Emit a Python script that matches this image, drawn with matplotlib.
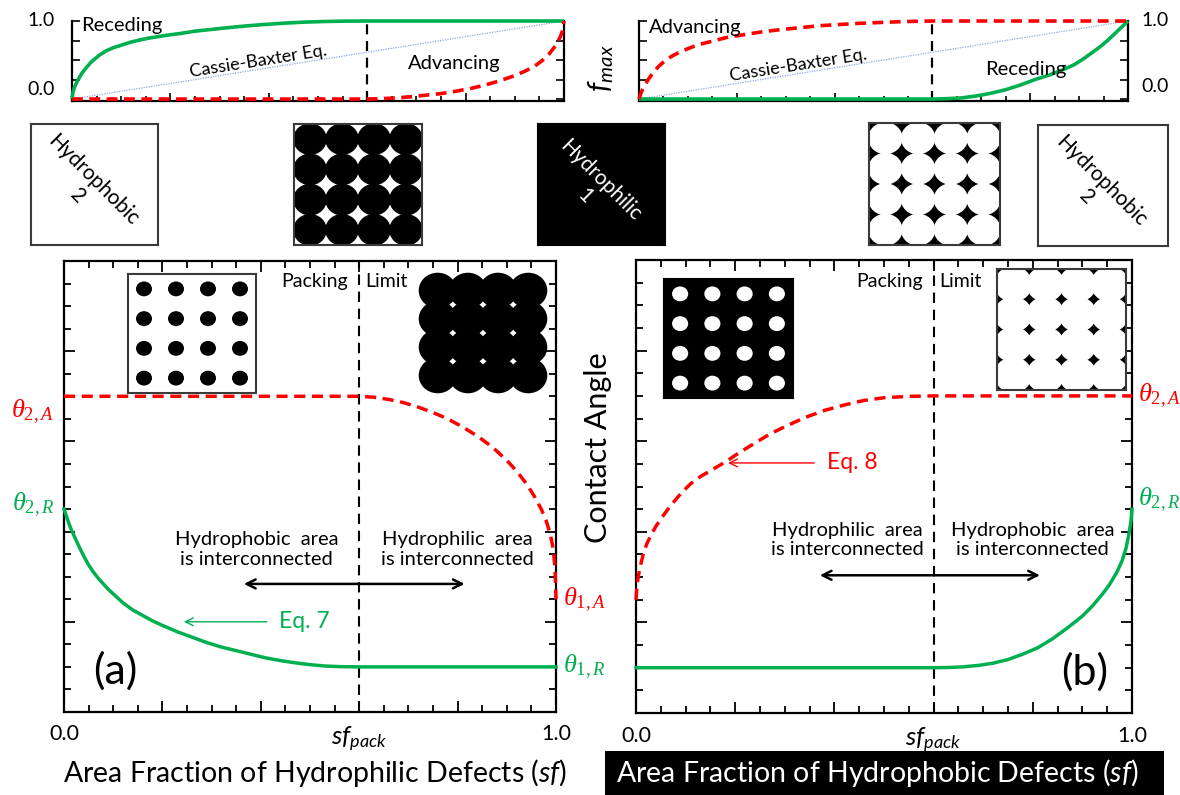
import matplotlib
matplotlib.use("Agg")
import numpy as np
import matplotlib.pyplot as plt
from matplotlib.patches import Ellipse, Rectangle
from matplotlib.ticker import MultipleLocator, FixedLocator

plt.rcParams["font.family"] = ["Lato", "DejaVu Sans"]
plt.rcParams["mathtext.fontset"] = "custom"
plt.rcParams["mathtext.rm"] = "Liberation Serif"
plt.rcParams["mathtext.it"] = "Liberation Serif:italic"
plt.rcParams["mathtext.sf"] = "Lato:italic"

# ---------------------------------------------------------------- data ----
sf_pack = 0.6
x_tick_pos = [0.0, 0.6, 1.0]
x_tick_text = ["0.0", r"$\mathsf{sf}_{\mathsf{pack}}$", "1.0"]

theta_2A = 3.5
theta_2R = 2.25
theta_1A = 1.25
theta_1R = 0.5

# (a) hydrophilic defects on a hydrophobic surface
a_rec_sf = [0.0, 0.005, 0.01, 0.015, 0.02, 0.03, 0.04, 0.05, 0.06, 0.07,
            0.08, 0.09, 0.10, 0.12, 0.14, 0.16, 0.18, 0.20, 0.23, 0.26,
            0.29, 0.32, 0.35, 0.38, 0.41, 0.44, 0.47, 0.50, 0.53, 0.56,
            0.60, 1.00]
a_rec_ca = [2.25, 2.17, 2.09, 2.02, 1.96, 1.84, 1.73, 1.63, 1.55, 1.48,
            1.42, 1.36, 1.31, 1.21, 1.13, 1.07, 1.01, 0.96, 0.89, 0.83,
            0.77, 0.72, 0.68, 0.64, 0.60, 0.57, 0.545, 0.525, 0.51, 0.503,
            0.50, 0.50]
a_adv_sf = [0.0, 0.60, 0.63, 0.66, 0.69, 0.72, 0.75, 0.78, 0.81, 0.84,
            0.87, 0.90, 0.92, 0.94, 0.955, 0.97, 0.98, 0.988, 0.994, 0.998,
            1.00]
a_adv_ca = [3.50, 3.50, 3.49, 3.465, 3.43, 3.38, 3.32, 3.25, 3.16, 3.06,
            2.94, 2.79, 2.67, 2.53, 2.40, 2.25, 2.12, 1.98, 1.82, 1.60,
            1.25]

# (b) hydrophobic defects on a hydrophilic surface
b_adv_sf = [0.0, 0.002, 0.005, 0.01, 0.015, 0.022, 0.03, 0.04, 0.055, 0.07,
            0.09, 0.11, 0.13, 0.155, 0.18, 0.21, 0.24, 0.27, 0.30, 0.34,
            0.38, 0.42, 0.46, 0.50, 0.55, 0.60, 1.00]
b_adv_ca = [1.25, 1.40, 1.52, 1.65, 1.76, 1.87, 1.96, 2.06, 2.18, 2.29,
            2.42, 2.53, 2.61, 2.69, 2.77, 2.88, 2.98, 3.08, 3.16, 3.26,
            3.34, 3.40, 3.45, 3.48, 3.495, 3.50, 3.50]
b_rec_sf = [0.0, 0.60, 0.63, 0.66, 0.69, 0.72, 0.75, 0.78, 0.81, 0.84,
            0.87, 0.90, 0.92, 0.94, 0.955, 0.97, 0.98, 0.988, 0.994, 0.998,
            1.00]
b_rec_ca = [0.50, 0.50, 0.502, 0.51, 0.525, 0.55, 0.59, 0.65, 0.72, 0.82,
            0.94, 1.07, 1.18, 1.31, 1.42, 1.56, 1.68, 1.82, 1.98, 2.12,
            2.25]

# f_max curves above each panel
fa_rec_sf = [0.0, 0.002, 0.005, 0.01, 0.02, 0.03, 0.04, 0.055, 0.07, 0.085,
             0.10, 0.12, 0.14, 0.16, 0.19, 0.22, 0.25, 0.28, 0.31, 0.35,
             0.39, 0.43, 0.47, 0.51, 0.55, 0.60, 1.00]
fa_rec_f = [0.0, 0.09, 0.15, 0.22, 0.33, 0.41, 0.48, 0.56, 0.62, 0.66,
            0.69, 0.73, 0.76, 0.785, 0.815, 0.84, 0.87, 0.89, 0.91, 0.935,
            0.955, 0.972, 0.985, 0.993, 0.998, 1.0, 1.0]
fa_adv_sf = [0.0, 0.60, 0.63, 0.66, 0.69, 0.72, 0.75, 0.78, 0.81, 0.84,
             0.87, 0.90, 0.92, 0.94, 0.955, 0.97, 0.98, 0.988, 0.994, 0.998,
             1.00]
fa_adv_f = [0.0, 0.0, 0.005, 0.015, 0.03, 0.05, 0.07, 0.10, 0.135, 0.18,
            0.235, 0.30, 0.355, 0.42, 0.49, 0.58, 0.66, 0.74, 0.82, 0.90,
            1.00]
fb_adv_sf = [0.0, 0.003, 0.007, 0.012, 0.02, 0.03, 0.042, 0.055, 0.07, 0.09,
             0.11, 0.13, 0.155, 0.18, 0.21, 0.25, 0.29, 0.33, 0.37, 0.41,
             0.45, 0.50, 0.55, 0.60, 1.00]
fb_adv_f = [0.0, 0.06, 0.12, 0.18, 0.26, 0.35, 0.43, 0.50, 0.56, 0.62,
            0.67, 0.71, 0.75, 0.79, 0.82, 0.86, 0.89, 0.915, 0.94, 0.955,
            0.97, 0.983, 0.994, 1.0, 1.0]
fb_rec_sf = [0.0, 0.60, 0.63, 0.66, 0.69, 0.72, 0.75, 0.78, 0.81, 0.84,
             0.865, 0.89, 0.91, 0.93, 0.945, 0.958, 0.97, 0.98, 0.99, 1.00]
fb_rec_f = [0.0, 0.0, 0.005, 0.015, 0.04, 0.075, 0.12, 0.18, 0.25, 0.31,
            0.37, 0.44, 0.52, 0.61, 0.68, 0.75, 0.82, 0.88, 0.94, 1.0]
cb_sf = [0.0, 1.0]
cb_f = [0.0, 1.0]

GREEN = "#00b050"
RED = "#ff0000"
CB_BLUE = "#8eaadb"
EDGE = "#3a3a3a"

# ------------------------------------------------------------- figure ----
W, H = 1180, 795
fig = plt.figure(figsize=(W / 100, H / 100), dpi=100)


def px_axes(x0, y0, x1, y1):
    return fig.add_axes([x0 / W, 1 - y1 / H, (x1 - x0) / W, (y1 - y0) / H])


def ftext(x, y, s, **kw):
    fig.text(x / W, 1 - y / H, s, **kw)


def blank(ax, bg="white", edge=None):
    ax.set_xticks([])
    ax.set_yticks([])
    ax.set_facecolor(bg)
    for sp in ax.spines.values():
        if edge is None:
            sp.set_visible(False)
        else:
            sp.set_color(edge)
            sp.set_linewidth(1.5)


def disc_grid(ax, diameter, color, n=4, clip=True):
    for i in range(n):
        for j in range(n):
            ax.add_patch(Ellipse((i + 0.5, j + 0.5), diameter, diameter,
                                 facecolor=color, edgecolor="none",
                                 clip_on=clip))


# ------------------------------------------------------ f_max panels ----
def fmax_axes(box, adv_sf, adv_f, rec_sf, rec_f):
    ax = px_axes(*box)
    ax.set_xlim(0, 1)
    ax.set_ylim(-0.025, 1.0)
    ax.plot(cb_sf, cb_f, color=CB_BLUE, lw=0.9, ls=(0, (1, 1)), zorder=1)
    ax.plot(rec_sf, rec_f, color=GREEN, lw=2.6, clip_on=False, zorder=3,
            solid_capstyle="butt")
    ax.plot(adv_sf, adv_f, color=RED, lw=2.6, dashes=(3.0, 1.8),
            clip_on=False, zorder=4)
    ax.plot([sf_pack, sf_pack], [-0.025, 1.0], color="black", lw=1.6,
            dashes=(4.5, 3), zorder=2)
    ax.spines["top"].set_visible(False)
    for s in ("left", "right", "bottom"):
        ax.spines[s].set_linewidth(1.6)
    ax.xaxis.set_major_locator(MultipleLocator(0.2))
    ax.xaxis.set_minor_locator(MultipleLocator(0.05))
    ax.yaxis.set_major_locator(FixedLocator([0, 0.25, 0.5, 0.75, 1.0]))
    ax.tick_params(which="both", direction="in", left=True, right=True,
                   top=False, labelleft=False, labelbottom=False, width=1.2)
    ax.tick_params(which="major", length=6)
    ax.tick_params(which="minor", length=3.5)
    return ax


axf_a = fmax_axes((72, 21, 564, 101), fa_adv_sf, fa_adv_f, fa_rec_sf, fa_rec_f)
axf_a.text(-0.035, 1.0, "1.0", transform=axf_a.transAxes, ha="right",
           va="center", fontsize=14)
axf_a.text(-0.035, 0.14, "0.0", transform=axf_a.transAxes, ha="right",
           va="center", fontsize=14)
ftext(81, 25, "Receding", fontsize=14.5, va="center")
ftext(258, 61, "Cassie-Baxter Eq.", fontsize=13, ha="center", va="center",
      rotation=9)
ftext(454, 64, "Advancing", fontsize=14.5, ha="center", va="center")

axf_b = fmax_axes((639, 21, 1128, 101), fb_adv_sf, fb_adv_f, fb_rec_sf, fb_rec_f)
axf_b.text(1.027, 1.0, "1.0", transform=axf_b.transAxes, ha="left",
           va="center", fontsize=14)
axf_b.text(1.027, 0.18, "0.0", transform=axf_b.transAxes, ha="left",
           va="center", fontsize=14)
ftext(649, 27, "Advancing", fontsize=14.5, va="center")
ftext(798, 65, "Cassie-Baxter Eq.", fontsize=13, ha="center", va="center",
      rotation=9)
ftext(1026, 69, "Receding", fontsize=14.5, ha="center", va="center")
ftext(601, 68, r"$\mathsf{f}_{\mathsf{max}}$", fontsize=21, ha="center",
      va="center", rotation=90)

# ------------------------------------------------------ surface sketches ----
ax = px_axes(31, 124, 158, 245)
blank(ax, "white", EDGE)
ax.text(0.43, 0.47, "Hydrophobic\n2", transform=ax.transAxes, ha="center",
        va="center", rotation=-45, fontsize=15, linespacing=1.1)

ax = px_axes(294, 124, 422, 245)
blank(ax, "white", EDGE)
ax.set_xlim(0, 4)
ax.set_ylim(0, 4)
disc_grid(ax, 1.05, "black")

ax = px_axes(538, 124, 665, 245)
blank(ax, "black", "black")
ax.text(0.43, 0.47, "Hydrophilic\n1", transform=ax.transAxes, ha="center",
        va="center", rotation=-45, fontsize=15, color="white",
        linespacing=1.1)

ax = px_axes(869, 123, 1000, 245)
blank(ax, "black", EDGE)
ax.set_xlim(0, 4)
ax.set_ylim(0, 4)
disc_grid(ax, 1.05, "white")

ax = px_axes(1038, 125, 1168, 246)
blank(ax, "white", EDGE)
ax.text(0.43, 0.47, "Hydrophobic\n2", transform=ax.transAxes, ha="center",
        va="center", rotation=-45, fontsize=15, linespacing=1.1)


# ------------------------------------------------------- main panels ----
def main_axes(box, adv_sf, adv_ca, rec_sf, rec_ca):
    ax = px_axes(*box)
    ax.set_xlim(0, 1)
    ax.set_ylim(0, 5)
    ax.plot(adv_sf, adv_ca, color=RED, lw=2.5, dashes=(3.2, 1.9),
            clip_on=False, zorder=3)
    ax.plot(rec_sf, rec_ca, color=GREEN, lw=2.5, clip_on=False, zorder=3)
    ax.axvline(sf_pack, color="black", lw=1.5, dashes=(5, 3.2), zorder=2)
    for sp in ax.spines.values():
        sp.set_linewidth(1.6)
    major_x = np.round(np.arange(0, 1.001, 0.2), 2)
    labels = [x_tick_text[x_tick_pos.index(v)] if v in x_tick_pos else ""
              for v in major_x]
    ax.set_xticks(major_x, labels)
    ax.xaxis.set_minor_locator(MultipleLocator(0.05))
    ax.yaxis.set_major_locator(MultipleLocator(1))
    ax.yaxis.set_minor_locator(MultipleLocator(0.25))
    ax.tick_params(which="both", direction="in", top=True, right=True,
                   width=1.3, labelleft=False, labelsize=15.5, pad=9)
    ax.tick_params(which="major", length=8)
    ax.tick_params(which="minor", length=5)
    for lab in ax.get_xticklabels():
        if "pack" in lab.get_text():
            lab.set_fontsize(18.5)
    return ax


def theta(ax, x, y, sub, color, ha):
    ax.text(x, y, r"$\theta_{%s}$" % sub, transform=ax.get_yaxis_transform(),
            ha=ha, va="center", color=color, fontsize=19)


# (a)
axa = main_axes((64, 261, 556, 712), a_adv_sf, a_adv_ca, a_rec_sf, a_rec_ca)
theta(axa, -0.02, theta_2A - 0.17, "2,A", RED, "right")
theta(axa, -0.02, theta_2R + 0.05, "2,R", GREEN, "right")
theta(axa, 1.015, theta_1A, "1,A", RED, "left")
theta(axa, 1.015, theta_1R, "1,R", GREEN, "left")
axa.annotate("Packing", xy=(sf_pack, 4.77), xytext=(-8, 0),
             textcoords="offset points", ha="right", va="center", fontsize=14)
axa.annotate("Limit", xy=(sf_pack, 4.77), xytext=(4, 0),
             textcoords="offset points", ha="left", va="center", fontsize=14)
axa.text(0.392, 1.80, "Hydrophobic  area\nis interconnected", ha="center",
         va="center", fontsize=14.5, linespacing=1.2)
axa.text(0.80, 1.80, "Hydrophilic  area\nis interconnected", ha="center",
         va="center", fontsize=14.5, linespacing=1.2)
axa.annotate("", xy=(0.82, 1.42), xytext=(0.36, 1.42),
             arrowprops=dict(arrowstyle="<->", color="black", lw=1.8,
                             mutation_scale=16))
axa.annotate("", xy=(0.238, 1.0), xytext=(0.418, 1.0),
             arrowprops=dict(arrowstyle="->", color=GREEN, lw=1.0,
                             mutation_scale=14))
axa.text(0.437, 1.0, "Eq. 7", color=GREEN, fontsize=16.5, ha="left",
         va="center")
axa.text(0.105, 0.45, "(a)", fontsize=31, ha="center", va="center")

# (b)
axb = main_axes((636, 260, 1132, 713), b_adv_sf, b_adv_ca, b_rec_sf, b_rec_ca)
theta(axb, 1.012, theta_2A, "2,A", RED, "left")
theta(axb, 1.012, theta_2R + 0.1, "2,R", GREEN, "left")
axb.annotate("Packing", xy=(sf_pack, 4.76), xytext=(-8, 0),
             textcoords="offset points", ha="right", va="center", fontsize=14)
axb.annotate("Limit", xy=(sf_pack, 4.76), xytext=(4, 0),
             textcoords="offset points", ha="left", va="center", fontsize=14)
axb.text(0.427, 1.91, "Hydrophilic  area\nis interconnected", ha="center",
         va="center", fontsize=14.5, linespacing=1.2)
axb.text(0.80, 1.91, "Hydrophobic  area\nis interconnected", ha="center",
         va="center", fontsize=14.5, linespacing=1.2)
axb.annotate("", xy=(0.82, 1.52), xytext=(0.365, 1.52),
             arrowprops=dict(arrowstyle="<->", color="black", lw=1.8,
                             mutation_scale=16))
axb.annotate("", xy=(0.18, 2.76), xytext=(0.365, 2.76),
             arrowprops=dict(arrowstyle="->", color=RED, lw=1.0,
                             mutation_scale=14))
axb.text(0.385, 2.76, "Eq. 8", color=RED, fontsize=16.5, ha="left",
         va="center")
axb.text(0.905, 0.45, "(b)", fontsize=31, ha="center", va="center")

# inset sketches inside the panels
ax = px_axes(128, 274, 256, 393)
blank(ax, "white", EDGE)
ax.set_xlim(0, 4)
ax.set_ylim(0, 4)
disc_grid(ax, 0.5, "black")

ax = px_axes(419, 273, 547, 393)
blank(ax, "none")
ax.patch.set_visible(False)
ax.set_xlim(-0.12, 4.12)
ax.set_ylim(-0.12, 4.12)
disc_grid(ax, 1.26, "black", clip=False)

ax = px_axes(664, 279, 793, 398)
blank(ax, "black", "black")
ax.set_xlim(0, 4)
ax.set_ylim(0, 4)
disc_grid(ax, 0.5, "white")

ax = px_axes(997, 269, 1126, 390)
blank(ax, "black", EDGE)
ax.set_xlim(0, 4)
ax.set_ylim(0, 4)
disc_grid(ax, 1.18, "white")

# axis titles
ftext(598, 448, "Contact Angle", fontsize=22, ha="center", va="center",
      rotation=90)
ftext(315, 773, r"Area Fraction of Hydrophilic Defects ($\mathsf{sf}$)",
      fontsize=20.5, ha="center", va="center")
fig.patches.append(Rectangle((605 / W, 0), (1164 - 605) / W, (795 - 751) / H,
                             transform=fig.transFigure, facecolor="black",
                             edgecolor="none", zorder=0))
ftext(877, 773, r"Area Fraction of Hydrophobic Defects ($\mathsf{sf}$)",
      fontsize=20.5, ha="center", va="center", color="white")

fig.savefig("out.png", dpi=100)
